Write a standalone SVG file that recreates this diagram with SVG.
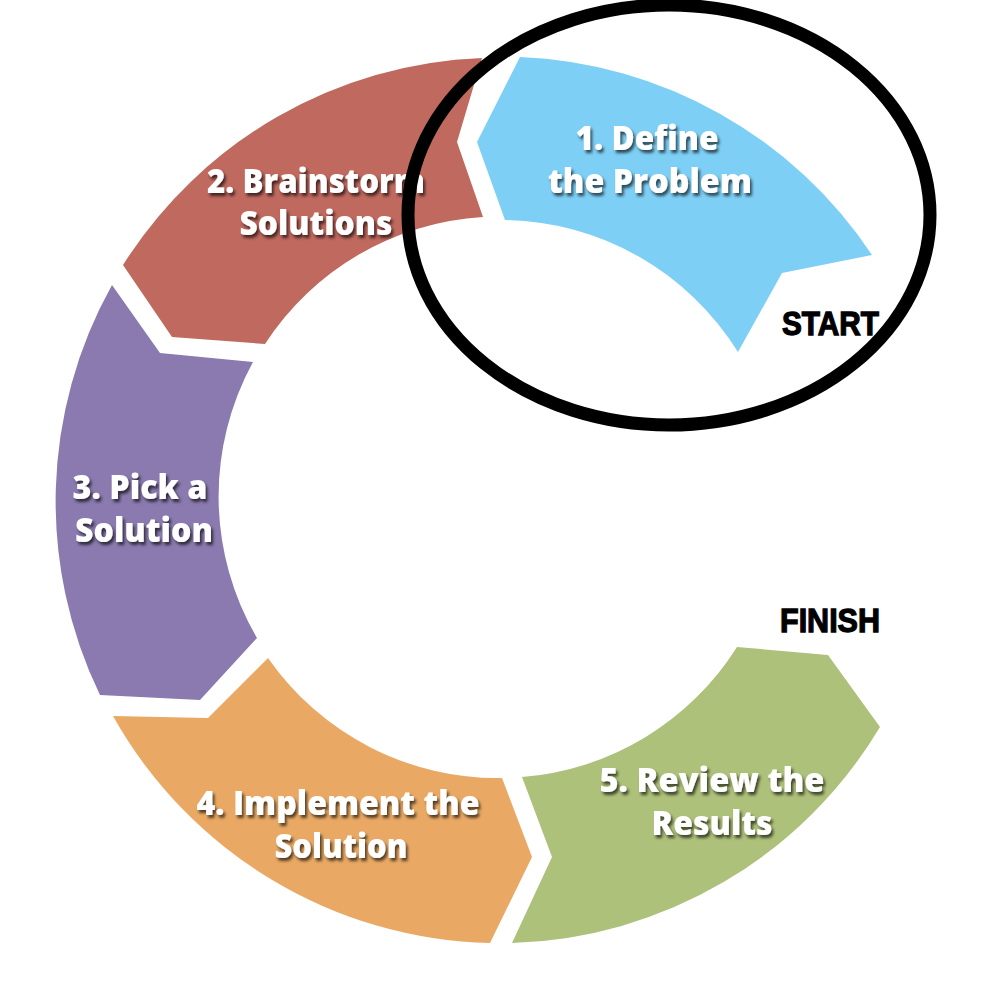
<svg xmlns="http://www.w3.org/2000/svg" width="1000" height="1000" viewBox="0 0 1000 1000">
  <defs>
    <filter id="shadow" x="-10%" y="-30%" width="130%" height="170%">
      <feDropShadow dx="2" dy="3" stdDeviation="1.5" flood-color="#000" flood-opacity="0.65"/>
    </filter>
    <style>
      .seg { stroke: none; }
      .label { font-family: "Open Sans", "DejaVu Sans", sans-serif; font-weight: 800; font-size: 34px; fill: #ffffff; text-anchor: middle; filter: url(#shadow); }
      .marker { font-family: "Liberation Sans", Arial, sans-serif; font-weight: 700; font-size: 34px; fill: #000000; stroke: #000000; stroke-width: 1.3px; }
    </style>
  </defs>
  <rect width="1000" height="1000" fill="#ffffff"/>

  <g id="step1">
    <path class="seg" fill="#7ECFF5" d="M520,57 A444,444 0 0 1 872,255 L782,273 L738,352 A280,280 0 0 0 505,220 L477,142 Z"/>
    <text class="label" x="647" y="150" textLength="143" lengthAdjust="spacingAndGlyphs">1. Define</text>
    <text class="label" x="650" y="193" textLength="204" lengthAdjust="spacingAndGlyphs">the Problem</text>
  </g>

  <g id="step2">
    <path class="seg" fill="#C0695F" d="M482,58 A444,444 0 0 0 123,265 L172,337 L265,344 A280,280 0 0 1 483,217 L457,142 Z"/>
    <text class="label" x="316" y="193" textLength="218" lengthAdjust="spacingAndGlyphs">2. Brainstorm</text>
    <text class="label" x="316" y="235" textLength="153" lengthAdjust="spacingAndGlyphs">Solutions</text>
  </g>

  <g id="step3">
    <path class="seg" fill="#8A7AAF" d="M112,285 A444,444 0 0 0 100,695 L200,700 L257,638 A280,280 0 0 1 253,362 L160,353 Z"/>
    <text class="label" x="140" y="499" textLength="135" lengthAdjust="spacingAndGlyphs">3. Pick a</text>
    <text class="label" x="144" y="542" textLength="138" lengthAdjust="spacingAndGlyphs">Solution</text>
  </g>

  <g id="step4">
    <path class="seg" fill="#E9A964" d="M113,716 A444,444 0 0 0 490,943 L532,857 L502,778 A280,280 0 0 1 268,658 L208,718 Z"/>
    <text class="label" x="338" y="815" textLength="283" lengthAdjust="spacingAndGlyphs">4. Implement the</text>
    <text class="label" x="341" y="858" textLength="133" lengthAdjust="spacingAndGlyphs">Solution</text>
  </g>

  <g id="step5">
    <path class="seg" fill="#AEC17A" d="M512,943 A444,444 0 0 0 880,727 L828,655 L737,647 A280,280 0 0 1 522,777 L552,857 Z"/>
    <text class="label" x="712" y="792" textLength="225" lengthAdjust="spacingAndGlyphs">5. Review the</text>
    <text class="label" x="712" y="835" textLength="121" lengthAdjust="spacingAndGlyphs">Results</text>
  </g>

  <g id="start">
    <text class="marker" x="782" y="335" textLength="97" lengthAdjust="spacingAndGlyphs">START</text>
  </g>

  <g id="finish">
    <text class="marker" x="780" y="632" textLength="100" lengthAdjust="spacingAndGlyphs">FINISH</text>
  </g>

  <g id="highlight">
    <ellipse cx="669" cy="215" rx="261" ry="210" fill="none" stroke="#000000" stroke-width="13"/>
  </g>
</svg>
